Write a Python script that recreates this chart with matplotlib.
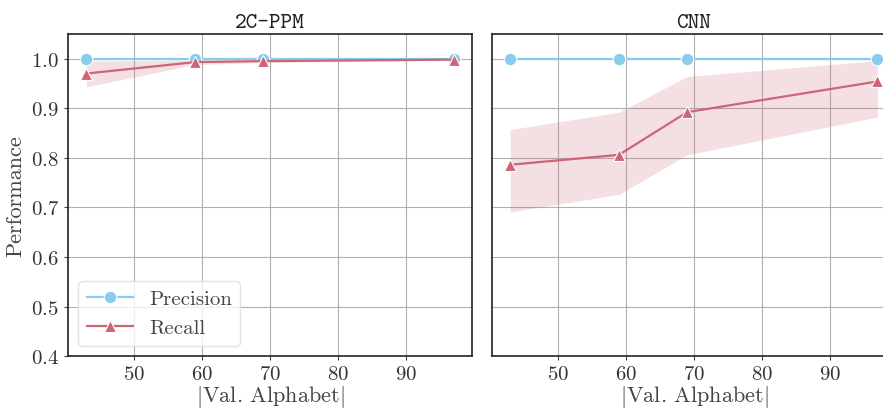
import os
import numpy as np
import matplotlib
matplotlib.use('Agg')
import matplotlib.pyplot as plt
from matplotlib.font_manager import FontProperties

# alphabet sizes on the x axis
alphabet = [43, 59, 69, 97]

# 2C-PPM
ppm_precision = [0.999, 0.999, 0.999, 0.999]
ppm_recall = [0.970, 0.993, 0.995, 0.998]
ppm_recall_lo = [0.943, 0.988, 0.992, 0.997]
ppm_recall_hi = [0.995, 0.997, 0.998, 0.999]

# CNN
cnn_precision = [1.0, 1.0, 1.0, 1.0]
cnn_recall = [0.786, 0.806, 0.892, 0.954]
cnn_recall_lo = [0.691, 0.726, 0.806, 0.882]
cnn_recall_hi = [0.857, 0.892, 0.964, 0.996]

titles = ['2C-PPM', 'CNN']

plt.rcParams['font.family'] = 'serif'
plt.rcParams['font.serif'] = ['cmr10']
plt.rcParams['mathtext.fontset'] = 'cm'
plt.rcParams['axes.formatter.use_mathtext'] = True

tt = FontProperties(fname=os.path.join(matplotlib.get_data_path(), 'fonts', 'ttf', 'cmtt10.ttf'),
                    size=16)

c_prec = '#88CCEE'
c_rec = '#CC6677'

fig = plt.figure(figsize=(8.83, 4.10), dpi=100)
# right panel runs past the figure edge, as in the reference
ax1 = fig.add_axes([0.077, 0.129, 0.4575, 0.786])
ax2 = fig.add_axes([0.557, 0.129, 0.4575, 0.786], sharey=ax1)

data = [(ppm_precision, ppm_recall, ppm_recall_lo, ppm_recall_hi),
        (cnn_precision, cnn_recall, cnn_recall_lo, cnn_recall_hi)]

for ax, title, (prec, rec, lo, hi) in zip([ax1, ax2], titles, data):
    ax.grid(True, color='#b0b0b0', linewidth=0.8)
    ax.set_axisbelow(True)
    ax.fill_between(alphabet, lo, hi, color=c_rec, alpha=0.2, linewidth=0)
    ax.plot(alphabet, prec, color=c_prec, marker='o', markersize=9,
            markeredgecolor='white', markeredgewidth=0.8, linewidth=1.6, label='Precision')
    ax.plot(alphabet, rec, color=c_rec, marker='^', markersize=9,
            markeredgecolor='white', markeredgewidth=0.8, linewidth=1.6, label='Recall')
    ax.set_title(title, fontproperties=tt, color='#222222', pad=5)
    ax.set_xlabel(r'$|$Val. Alphabet$|$', fontsize=16, color='#444444', labelpad=0)
    ax.set_xticks([50, 60, 70, 80, 90])
    ax.set_xlim(40.3, 99.7)
    ax.tick_params(labelsize=15, length=3, colors='#444444', labelcolor='#333333')
    for s in ax.spines.values():
        s.set_color('#222222')
        s.set_linewidth(1.2)

ax1.set_ylim(0.4, 1.05)
ax1.set_yticks([0.4, 0.5, 0.6, 0.7, 0.8, 0.9, 1.0])
ax1.set_ylabel('Performance', fontsize=16, color='#444444', labelpad=4)
ax2.tick_params(labelleft=False, left=False)

leg = ax1.legend(loc='lower left', fontsize=15, frameon=True, handlelength=2.2)
leg.get_frame().set_edgecolor('#dddddd')
for t in leg.get_texts():
    t.set_color('#444444')

fig.savefig('out.png', dpi=100)
